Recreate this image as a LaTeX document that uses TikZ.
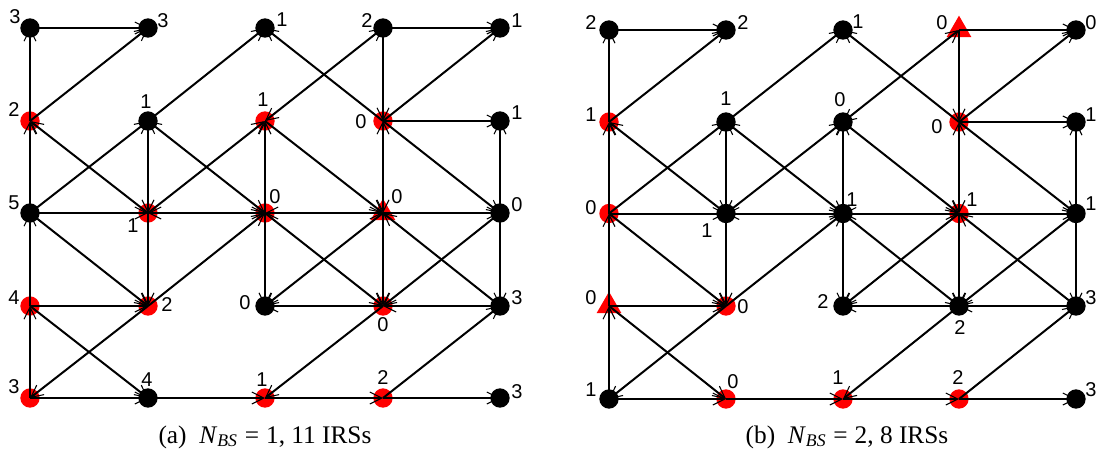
\documentclass[tikz,border=0pt]{standalone}
\usepackage{fontspec}
\setmainfont{Liberation Serif}
\newfontfamily\labfont{Liberation Sans}
\usetikzlibrary{arrows.meta,shapes.geometric}
\begin{document}
\begin{tikzpicture}[x=0.75pt,y=-0.75pt,
  usr/.style={circle,fill=black,inner sep=0pt,minimum size=14.5pt},
  irs/.style={circle,fill=red,inner sep=0pt,minimum size=14.5pt},
  bst/.style={regular polygon,regular polygon sides=3,fill=red,inner sep=0pt,minimum size=21.5pt},
  lab/.style={font={\fontsize{15}{17}\selectfont\labfont},inner sep=0pt},
  captext/.style={font={\fontsize{19}{22}\selectfont},inner sep=0pt},
  barb/.tip={Straight Barb[length=9pt,width=9pt,line width=0.8pt]},
  link/.style={line width=1.5pt,-barb},
  blink/.style={line width=1.5pt,barb-barb}]
\useasboundingbox (0,0) rectangle (1096,454);
% ---------- panel (a) nodes ----------
\foreach \c/\x in {0/30,1/148,2/265,3/383,4/500}{
  \foreach \r/\y in {0/398,1/306,2/213,3/121,4/28}{
    \coordinate (pa\c\r) at (\x,\y);
  }
}
\foreach \n/\t in {04/usr,14/usr,24/usr,34/usr,44/usr,
                   03/irs,13/usr,23/irs,33/irs,43/usr,
                   02/usr,12/irs,22/irs,32/bst,42/usr,
                   01/irs,11/irs,21/usr,31/irs,41/usr,
                   00/irs,10/usr,20/irs,30/irs,40/usr}
  \node[\t] (a\n) at (pa\n) {};
% ---------- panel (b) nodes ----------
\foreach \c/\x in {0/609,1/726,2/843,3/959,4/1076}{
  \foreach \r/\y in {0/399,1/306,2/213.5,3/122,4/30}{
    \coordinate (pb\c\r) at (\x,\y);
  }
}
\foreach \n/\t in {04/usr,14/usr,24/usr,34/bst,44/usr,
                   03/irs,13/usr,23/usr,33/irs,43/usr,
                   02/irs,12/usr,22/usr,32/irs,42/usr,
                   01/bst,11/irs,21/usr,31/usr,41/usr,
                   00/usr,10/irs,20/irs,30/irs,40/usr}
  \node[\t] (b\n) at (pb\n) {};
% ---------- links (same directed graph in both panels) ----------
\foreach \p in {a,b}{
  \foreach \s/\e in {04/14,34/44,33/43,02/12,32/42,01/11,31/21,41/31,
                     00/10,10/20,20/30,30/40,03/04,02/03,01/02,00/01,
                     13/12,12/11,22/23,22/21,34/33,32/31,42/43,42/41,
                     03/14,13/24,12/03,02/13,12/23,33/24,33/44,23/32,
                     33/42,02/11,11/22,11/00,01/10,22/31,32/21,41/32,
                     42/31,31/20,30/41}
    \draw[link] (\p\s.center) -- (\p\e.center);
  \foreach \s/\e in {12/22,22/32,32/33,22/13,23/34}
    \draw[blink] (\p\s.center) -- (\p\e.center);
}
% ---------- labels (a) ----------
\foreach \n/\v/\dx/\dy in {04/3/-15/-11,14/3/15/-7,24/1/17/-8,34/2/-16/-7,44/1/17/-7,
    03/2/-16/-11,13/1/-2/-19,23/1/-2/-21,33/0/-22/1,43/1/17/-8,
    02/5/-16/-10,12/1/-15/13,22/0/10/-16,32/0/14/-16,42/0/17/-8,
    01/4/-16/-8,11/2/19/-1,21/0/-20/-3,31/0/0/19,41/3/17/-8,
    00/3/-16/-11,10/4/-1/-18,20/1/-3/-18,30/2/0/-20,40/3/17/-6}
  \node[lab] (la\n) at ([shift={(\dx,\dy)}]a\n.center) {\v};
% ---------- labels (b) ----------
\foreach \n/\v/\dx/\dy in {04/2/-18/-7,14/2/17/-7,24/1/15/-8,34/0/-17/-7,44/0/15/-7,
    03/1/-18/-7,13/1/0/-23,23/0/-3/-22,33/0/-22/5,43/1/15/-7,
    02/0/-18/-6,12/1/-19/17,22/1/9/-14,32/1/13/-14,42/1/15/-10,
    01/0/-18/-8,11/0/17/1,21/2/-20/-4,31/2/1/22,41/3/15/-8,
    00/1/-18/-9,10/0/7/-17,20/1/-5/-21,30/2/-1/-21,40/3/15/-9}
  \node[lab] (lb\n) at ([shift={(\dx,\dy)}]b\n.center) {\v};
% ---------- captions ----------
\node[captext] (capa) at (265,437) {(a)\enspace\textit{N}\textsubscript{\textit{BS}}\;=\;1, 11 IRSs};
\node[captext] (capb) at (847,437) {(b)\enspace\textit{N}\textsubscript{\textit{BS}}\;=\;2, 8 IRSs};
\end{tikzpicture}
\end{document}
